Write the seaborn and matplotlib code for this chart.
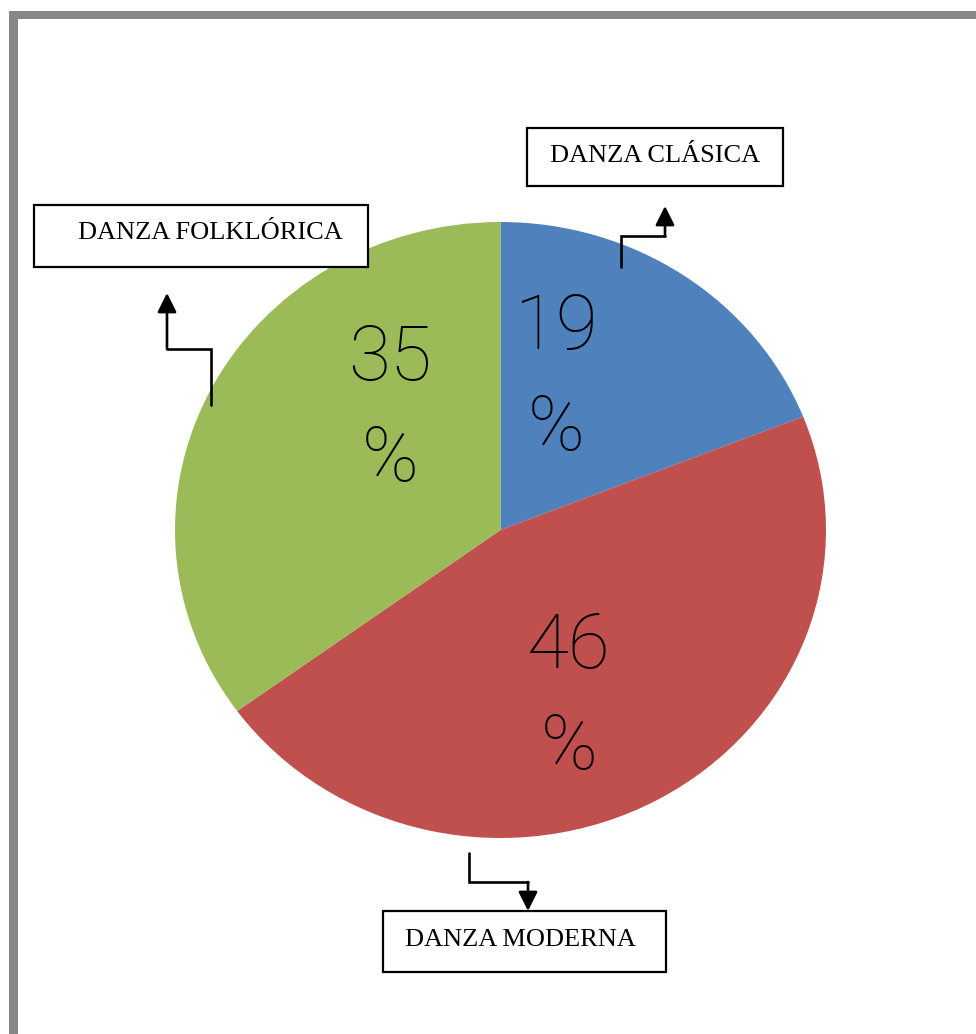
import matplotlib
matplotlib.use("Agg")
import matplotlib.pyplot as plt
from matplotlib.patches import Rectangle
import seaborn as sns

# datos
categorias = ["DANZA CLÁSICA", "DANZA MODERNA", "DANZA FOLKLÓRICA"]
porcentajes = [19, 46, 35]
etiquetas = ["19\n%", "46\n%", "35\n%"]
colores = ["#4F81BD", "#C0504D", "#9BBB59"]

# posiciones de las etiquetas dentro del pastel (coords. de datos -1..1)
pos_etiquetas = [(0.17, 0.49), (0.21, -0.545), (-0.34, 0.39)]

# cajas (x0, y0, x1, y1 en px) y centro del texto
cajas = {
    "DANZA CLÁSICA": ((527, 128, 783, 186), (655, 156)),
    "DANZA MODERNA": ((383, 911, 666, 972), (520, 940)),
    "DANZA FOLKLÓRICA": ((34, 205, 368, 267), (210, 233)),
}
# flechas en codo: puntos hasta el ultimo codo, luego punta
flechas = [
    [(621, 267), (621, 236), (665, 236), (665, 206)],
    [(469, 853), (469, 882), (528, 882), (528, 911)],
    [(211, 405), (211, 349), (167, 349), (167, 293)],
]

W, H = 976, 1034
sns.set_theme(style="white")
fig = plt.figure(figsize=(W / 100, H / 100), dpi=100)
fig.patch.set_facecolor("white")

# pastel (ligeramente eliptico como el original)
ax = fig.add_axes([175 / W, 1 - 838 / H, 651 / W, 616 / H])
ax.pie(porcentajes, colors=colores, startangle=90, counterclock=False,
       wedgeprops=dict(linewidth=0))
ax.set_aspect("auto")
ax.set_xlim(-1, 1)
ax.set_ylim(-1, 1)
ax.axis("off")
for (x, y), t in zip(pos_etiquetas, etiquetas):
    ax.text(x, y, t, ha="center", va="center", fontsize=55, family="Roboto",
            fontweight="light", color="black", linespacing=1.5)

# capa superior en pixeles
ov = fig.add_axes([0, 0, 1, 1], zorder=5)
ov.set_xlim(0, W)
ov.set_ylim(H, 0)
ov.axis("off")
ov.patch.set_alpha(0)

# marco gris
ov.add_patch(Rectangle((9, 11), W - 9, 8, color="#878787", lw=0))
ov.add_patch(Rectangle((9, 11), 9, H - 11, color="#878787", lw=0))

for nombre, ((x0, y0, x1, y1), (tx, ty)) in cajas.items():
    ov.add_patch(Rectangle((x0, y0), x1 - x0, y1 - y0, fill=True,
                           facecolor="white", edgecolor="black", lw=1.6))
    ov.text(tx, ty, nombre, ha="center", va="center", fontsize=19,
            family="Liberation Serif", color="black")

for pts in flechas:
    xs = [p[0] for p in pts[:-1]]
    ys = [p[1] for p in pts[:-1]]
    ov.plot(xs, ys, color="black", lw=1.9, solid_joinstyle="miter")
    ov.annotate("", xy=pts[-1], xytext=pts[-2],
                arrowprops=dict(arrowstyle="-|>,head_length=0.4,head_width=0.2",
                                mutation_scale=29, lw=1.9, color="black",
                                shrinkA=0, shrinkB=0))

fig.savefig("out.png", dpi=100)
